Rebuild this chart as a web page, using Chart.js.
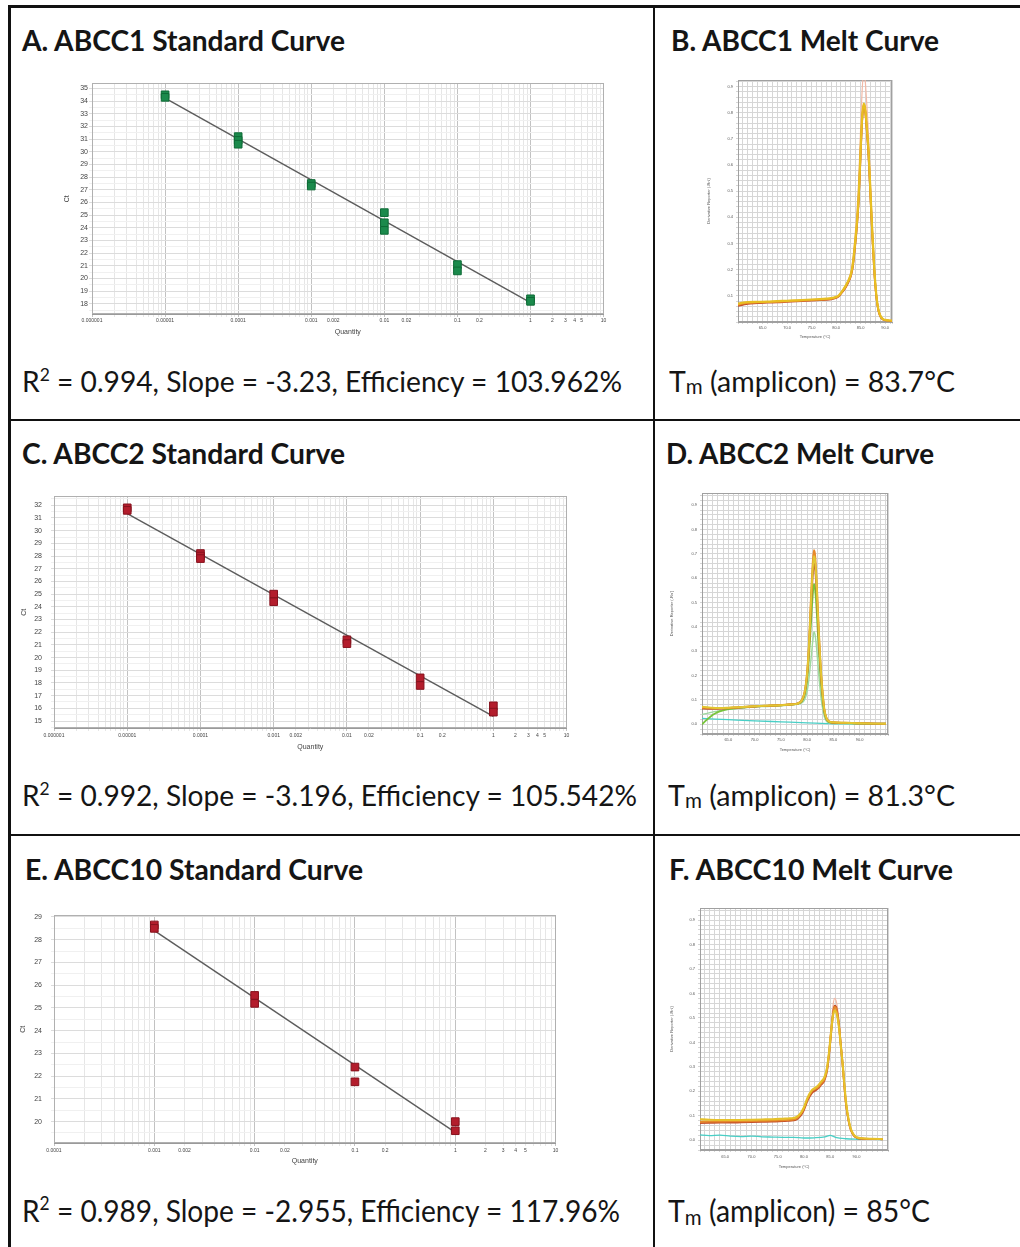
<!DOCTYPE html>
<html><head><meta charset="utf-8">
<script src="https://cdn.jsdelivr.net/npm/chart.js@4.4.1/dist/chart.umd.min.js"></script>
<style>
html,body{margin:0;padding:0;background:#fff;}
body{width:1020px;height:1247px;position:relative;overflow:hidden;}
.ln{position:absolute;background:#111;}
canvas{position:absolute;}
.t{position:absolute;white-space:nowrap;color:#151515;transform-origin:0 0;}
.t sup{font-size:0.62em;line-height:0;vertical-align:0.62em;}
.t sub{font-size:0.72em;line-height:0;vertical-align:-0.12em;}
</style></head><body>
<div class="ln" style="left:8px;top:5px;width:1012px;height:3px"></div>
<div class="ln" style="left:8px;top:5px;width:3px;height:1242px"></div>
<div class="ln" style="left:653px;top:5px;width:2px;height:1242px"></div>
<div class="ln" style="left:8px;top:419px;width:1012px;height:2px"></div>
<div class="ln" style="left:8px;top:834px;width:1012px;height:2px"></div>
<script>
// ---------- DATA ----------
// Standard curves (Quantity vs Ct)
const qtyA = [1e-5,1e-5,1e-4,1e-4,1e-4,1e-3,1e-3,1e-2,1e-2,1e-2,0.1,0.1,1,1];
const ctA  = [34.5,34.3,31.2,30.9,30.6,27.5,27.3,25.2,24.4,23.8,21.1,20.6,18.4,18.2];
const fitQtyA = [1e-5,1];
const fitCtA  = [34.24,18.09];

const qtyC = [1e-5,1e-5,1e-4,1e-4,1e-4,1e-3,1e-3,1e-2,1e-2,0.1,0.1,1,1];
const ctC  = [31.8,31.6,28.2,28.0,27.8,25.0,24.4,21.4,21.1,18.4,17.8,16.2,15.7];
const fitQtyC = [1e-5,1];
const fitCtC  = [31.35,15.37];

const qtyE = [1e-3,1e-3,1e-2,1e-2,0.1,0.1,1,1];
const ctE  = [28.65,28.5,25.55,25.2,22.4,21.75,20.0,19.6];
const fitQtyE = [1e-3,1];
const fitCtE  = [28.4,19.53];

const qtyTickLabelsAC = ['0.000001','0.00001','0.0001','0.001','0.002','0.01','0.02','0.1','0.2','1','2','3','4','5','10'];
const qtyTickLabelsE  = ['0.0001','0.001','0.002','0.01','0.02','0.1','0.2','1','2','3','4','5','10'];
const ctTicksA = [18,19,20,21,22,23,24,25,26,27,28,29,30,31,32,33,34,35];
const ctTicksC = [15,16,17,18,19,20,21,22,23,24,25,26,27,28,29,30,31,32];
const ctTicksE = [20,21,22,23,24,25,26,27,28,29];

// Melt curves (Temperature vs derivative reporter)
const tempB = [60,61,62,64,66,68,70,72,74,76,78,79,80,80.5,81,81.5,82,82.5,83,83.4,83.8,84.2,84.6,85,85.3,85.6,85.9,86.2,86.6,87,87.4,87.8,88.2,88.6,89,89.5,90,91.4];
const bPink   = [0.068,0.072,0.075,0.076,0.077,0.079,0.080,0.082,0.084,0.086,0.088,0.090,0.095,0.100,0.112,0.126,0.142,0.162,0.190,0.235,0.315,0.410,0.540,0.740,0.880,0.950,0.930,0.850,0.720,0.540,0.360,0.210,0.110,0.052,0.026,0.012,0.008,0.005];
const bRed    = [0.062,0.066,0.070,0.072,0.074,0.075,0.077,0.079,0.081,0.083,0.085,0.087,0.092,0.097,0.108,0.120,0.134,0.152,0.175,0.210,0.276,0.355,0.462,0.640,0.765,0.830,0.815,0.748,0.640,0.482,0.325,0.190,0.098,0.046,0.022,0.010,0.006,0.004];
const bOrange = [0.066,0.070,0.073,0.075,0.076,0.077,0.079,0.081,0.083,0.085,0.087,0.089,0.094,0.099,0.110,0.122,0.137,0.155,0.178,0.215,0.282,0.362,0.470,0.650,0.770,0.825,0.812,0.752,0.650,0.490,0.332,0.195,0.100,0.048,0.024,0.011,0.007,0.005];
const bYellow = [0.070,0.074,0.076,0.077,0.078,0.080,0.081,0.083,0.085,0.087,0.089,0.091,0.096,0.101,0.112,0.125,0.140,0.158,0.182,0.220,0.290,0.370,0.480,0.660,0.780,0.835,0.820,0.760,0.660,0.500,0.340,0.200,0.105,0.050,0.025,0.012,0.008,0.005];

const tempD = [60,61,62,63,64,65,67,70,72,75,77,78.2,79.0,79.5,79.9,80.2,80.5,80.8,81.1,81.3,81.5,81.8,82.1,82.4,82.7,83.0,83.3,83.7,84.2,84.7,87,90,95];
const dLight  = [0.040,0.045,0.050,0.054,0.058,0.061,0.066,0.071,0.073,0.076,0.079,0.082,0.088,0.100,0.125,0.160,0.215,0.280,0.345,0.380,0.370,0.315,0.235,0.160,0.100,0.060,0.030,0.012,0.006,0.004,0.003,0.002,0.001];
const dGreen  = [0.000,0.020,0.038,0.050,0.057,0.062,0.068,0.073,0.075,0.078,0.081,0.085,0.095,0.118,0.165,0.230,0.330,0.440,0.540,0.575,0.560,0.480,0.360,0.250,0.160,0.095,0.048,0.020,0.009,0.006,0.005,0.003,0.002];
const dRed    = [0.065,0.064,0.064,0.064,0.065,0.066,0.069,0.073,0.075,0.078,0.081,0.085,0.097,0.125,0.180,0.255,0.375,0.510,0.620,0.660,0.645,0.555,0.415,0.285,0.185,0.110,0.055,0.023,0.011,0.007,0.005,0.004,0.002];
const dYellow = [0.072,0.070,0.068,0.067,0.067,0.068,0.070,0.074,0.076,0.078,0.081,0.085,0.098,0.127,0.185,0.262,0.385,0.530,0.645,0.690,0.675,0.580,0.435,0.300,0.195,0.115,0.058,0.024,0.011,0.008,0.006,0.004,0.002];
const dOrange = [0.068,0.067,0.066,0.066,0.066,0.067,0.070,0.074,0.076,0.079,0.082,0.086,0.100,0.130,0.190,0.270,0.400,0.550,0.670,0.715,0.700,0.600,0.450,0.310,0.200,0.120,0.060,0.025,0.012,0.008,0.006,0.004,0.002];
const tempCyanD = [60,65,70,75,80,84,85,90,95];
const dCyan   = [0.024,0.019,0.014,0.010,0.006,0.003,0.002,0.002,0.001];

const tempF = [60,62,64,66,68,70,72,74,76,77,78,78.5,79,79.5,80,80.7,81.5,82.2,82.6,83.2,83.9,84.4,84.8,85.2,85.5,85.8,86.1,86.4,86.7,87,87.4,87.7,88,88.5,88.9,89.5,90.2,91,93,95];
const fPink   = [0.074,0.075,0.075,0.076,0.076,0.077,0.078,0.079,0.081,0.082,0.084,0.087,0.096,0.109,0.129,0.170,0.202,0.213,0.220,0.236,0.258,0.302,0.378,0.475,0.545,0.580,0.572,0.538,0.480,0.405,0.310,0.225,0.152,0.081,0.045,0.020,0.010,0.007,0.005,0.004];
const fRed    = [0.070,0.071,0.072,0.072,0.073,0.074,0.075,0.076,0.078,0.079,0.081,0.084,0.092,0.104,0.124,0.163,0.193,0.204,0.210,0.225,0.245,0.285,0.355,0.448,0.512,0.550,0.546,0.516,0.465,0.392,0.300,0.218,0.148,0.078,0.043,0.019,0.009,0.006,0.005,0.004];
const fOrange = [0.075,0.076,0.076,0.077,0.077,0.078,0.079,0.080,0.082,0.083,0.085,0.088,0.097,0.110,0.130,0.170,0.200,0.210,0.215,0.230,0.250,0.290,0.360,0.450,0.510,0.545,0.540,0.510,0.460,0.390,0.300,0.220,0.150,0.080,0.045,0.020,0.010,0.007,0.005,0.004];
const fYellow = [0.086,0.084,0.083,0.083,0.083,0.084,0.085,0.086,0.088,0.089,0.091,0.094,0.102,0.115,0.135,0.175,0.205,0.215,0.222,0.238,0.258,0.298,0.365,0.450,0.505,0.530,0.525,0.500,0.455,0.390,0.305,0.228,0.158,0.085,0.048,0.022,0.011,0.008,0.006,0.005];
const tempCyanF = [60,62,64,66,68,70,72,74,76,78,80,82,84,85,86,88,90,95];
const fCyan   = [0.022,0.019,0.021,0.017,0.015,0.017,0.014,0.013,0.012,0.012,0.009,0.010,0.014,0.020,0.012,0.006,0.004,0.003];

const tempTickLabels = [65,70,75,80,85,90];
const derivTickLabelsB = [0.1,0.2,0.3,0.4,0.5,0.6,0.7,0.8,0.9];
const derivTickLabelsDF = [0.0,0.1,0.2,0.3,0.4,0.5,0.6,0.7,0.8,0.9];

// ---------- TEXT ----------
function txt(html, left, base, fs, weight, target){
  const d=document.createElement('div'); d.className='t';
  d.style.font = weight+' '+fs+'px Lato';
  d.style.lineHeight = fs+'px';
  d.style.left=left+'px';
  d.style.top=(base-0.887*fs)+'px';
  d.innerHTML=html;
  document.body.appendChild(d);
  const w=d.getBoundingClientRect().width;
  d.style.transform='scaleX('+(target/w).toFixed(4)+')';
}
txt('A. ABCC1 Standard Curve',22,51,28,'bold',323);
txt('B. ABCC1 Melt Curve',671,51,28,'bold',268);
txt('C. ABCC2 Standard Curve',22,464,28,'bold',323);
txt('D. ABCC2 Melt Curve',666,464,28,'bold',268);
txt('E. ABCC10 Standard Curve',25,880,28,'bold',338);
txt('F. ABCC10 Melt Curve',669,880,28,'bold',284);
txt('R<sup>2</sup> = 0.994, Slope = -3.23, Efficiency = 103.962%',22,392,28,'normal',600);
txt('T<sub>m</sub> (amplicon) = 83.7°C',669,392,28,'normal',286);
txt('R<sup>2</sup> = 0.992, Slope = -3.196, Efficiency = 105.542%',22,806,28,'normal',615);
txt('T<sub>m</sub> (amplicon) = 81.3°C',668,806,28,'normal',287);
txt('R<sup>2</sup> = 0.989, Slope = -2.955, Efficiency = 117.96%',22,1222,30,'normal',598);
txt('T<sub>m</sub> (amplicon) = 85°C',668,1222,30,'normal',262);

// ---------- CHARTS ----------
Chart.register({id:'frame', beforeDatasetsDraw(c,a,o){
  const {left,top,right,bottom}=c.chartArea, ctx=c.ctx;
  ctx.save(); ctx.strokeStyle=o.color||'#999'; ctx.lineWidth=1;
  ctx.strokeRect(Math.round(left)+0.5,Math.round(top)+0.5,Math.round(right-left)-1,Math.round(bottom-top)-1);
  ctx.restore();
}});
const FONT='Liberation Sans';
function mkCanvas(b){
  const c=document.createElement('canvas');
  c.width=b.w; c.height=b.h; c.style.left=b.l+'px'; c.style.top=b.t+'px';
  c.style.width=b.w+'px'; c.style.height=b.h+'px';
  document.body.appendChild(c); return c;
}
function matchLabel(v, labels){
  for(const l of labels){ if(Math.abs(parseFloat(l)/v-1)<1e-6) return l; }
  return '';
}
function fixX(b){return s=>{s.height=b.xh;s.paddingLeft=0;s.paddingRight=0;s.paddingTop=0;s.paddingBottom=0;};}
function fixY(b){return s=>{s.width=b.yw;s.paddingLeft=0;s.paddingRight=0;s.paddingTop=0;s.paddingBottom=0;};}
function stdChart(b, qty, ct, fq, fc, fillC, edgeC, xmin, xmax, ymin, ymax, yTicks, xLabels){
  const cv=mkCanvas(b);
  new Chart(cv,{type:'scatter',
    data:{datasets:[
      {data:qty.map((q,i)=>({x:q,y:ct[i]})), pointStyle:'rect', pointRadius:5.4, backgroundColor:fillC, borderColor:edgeC, borderWidth:1},
      {data:fq.map((q,i)=>({x:q,y:fc[i]})), showLine:true, pointRadius:0, borderColor:'#5c5c5c', borderWidth:1.4}
    ]},
    options:{responsive:false, animation:false, devicePixelRatio:1, events:[],
      layout:{padding:{left:0,top:b.pt,right:b.pr,bottom:0}},
      plugins:{legend:{display:false},tooltip:{enabled:false},frame:{color:'#b0b0b0'}},
      scales:{
        x:{type:'logarithmic', min:xmin, max:xmax,
          afterBuildTicks(s){const t=[];const e0=Math.round(Math.log10(xmin)),e1=Math.round(Math.log10(xmax));
            for(let e=e0;e<e1;e++){for(let k=1;k<10;k++)t.push({value:+(k*Math.pow(10,e)).toPrecision(6)});}
            t.push({value:xmax}); s.ticks=t;},
          afterFit:fixX(b),
          grid:{color:c=>{const v=c.tick?c.tick.value:1;const l=Math.log10(v);return Math.abs(l-Math.round(l))<1e-6?'#c2c2c2':'#e6e6e6';},tickLength:3},
          border:{color:'#9a9a9a'},
          ticks:{autoSkip:false,maxRotation:0,minRotation:0,padding:b.xtp,font:{size:5,family:FONT},color:'#444',callback:v=>matchLabel(v,xLabels)},
          title:{display:true,text:'Quantity',font:{size:7,family:FONT},color:'#444',padding:b.xtt}
        },
        y:{min:ymin,max:ymax,
          afterBuildTicks(s){const t=[];for(let v=Math.ceil(ymin*2)/2;v<=ymax+1e-9;v+=0.5)t.push({value:v});s.ticks=t;},
          afterFit:fixY(b),
          grid:{color:c=>{const v=c.tick?c.tick.value:0;return Number.isInteger(v)?'#dcdcdc':'#f0f0f0';},tickLength:3},
          border:{color:'#9a9a9a'},
          ticks:{autoSkip:false,padding:b.ytp,font:{size:7,family:FONT},color:'#444',callback:v=>yTicks.includes(v)?String(v):''},
          title:{display:true,text:'Ct',font:{size:7,family:FONT},color:'#444',padding:b.ytt}
        }
      }
    }
  });
}
function meltChart(b, traces, xmin, xmax, ymin, ymax, yLabels){
  const cv=mkCanvas(b);
  new Chart(cv,{type:'scatter',
    data:{datasets:traces.map(tr=>({data:tr.t.map((t,i)=>({x:t,y:tr.v[i]})), showLine:true, pointRadius:0,
      borderColor:tr.c, borderWidth:tr.w||1.9, cubicInterpolationMode:'monotone'}))},
    options:{responsive:false, animation:false, devicePixelRatio:1, events:[],
      layout:{padding:{left:0,top:b.pt,right:b.pr,bottom:0}},
      plugins:{legend:{display:false},tooltip:{enabled:false},frame:{color:'#a0a0a0'}},
      scales:{
        x:{type:'linear',min:xmin,max:xmax,
          afterBuildTicks(s){const t=[{value:xmin}];for(let v=Math.ceil(xmin+1e-9);v<xmax;v++)t.push({value:v});t.push({value:xmax});s.ticks=t;},
          afterFit:fixX(b),
          grid:{color:'#d6d6d6',tickLength:2},
          border:{color:'#a0a0a0'},
          ticks:{autoSkip:false,maxRotation:0,minRotation:0,padding:b.xtp,font:{size:4,family:FONT},color:'#555',
            callback:v=>tempTickLabels.includes(v)?v.toFixed(1):''},
          title:{display:true,text:'Temperature (°C)',font:{size:4,family:FONT},color:'#555',padding:b.xtt}
        },
        y:{min:ymin,max:ymax,
          afterBuildTicks(s){const t=[];for(let i=Math.ceil(ymin/0.02-1e-9);i*0.02<=ymax+1e-9;i++)t.push({value:+(i*0.02).toFixed(2)});s.ticks=t;},
          afterFit:fixY(b),
          grid:{color:'#d6d6d6',tickLength:2},
          border:{color:'#a0a0a0'},
          ticks:{autoSkip:false,padding:b.ytp,font:{size:4,family:FONT},color:'#555',
            callback:v=>{const s=+v.toFixed(1);return (Math.abs(v-s)<1e-6&&yLabels.includes(s))?s.toFixed(1):'';}},
          title:{display:true,text:"Derivative Reporter (-Rn')",font:{size:4,family:FONT},color:'#555',padding:b.ytt}
        }
      }
    }
  });
}

stdChart({l:58,t:77,w:552,h:263,pt:4,pr:5,yw:34,xh:26,xtp:1,xtt:3.5,ytp:1,ytt:4.8},
  qtyA, ctA, fitQtyA, fitCtA, '#1b8a4c','#0e6a36', 1e-6, 10, 17.2, 35.4, ctTicksA, qtyTickLabelsAC);
stdChart({l:18,t:490,w:555,h:264,pt:4,pr:5,yw:36,xh:26,xtp:2,xtt:3,ytp:9,ytt:1.4},
  qtyC, ctC, fitQtyC, fitCtC, '#b31d2c','#86121d', 1e-6, 10, 14.45, 32.7, ctTicksC, qtyTickLabelsAC);
stdChart({l:18,t:909,w:544,h:260,pt:4,pr:5,yw:36,xh:26,xtp:2,xtt:4,ytp:9,ytt:0.7},
  qtyE, ctE, fitQtyE, fitCtE, '#b31d2c','#86121d', 1e-4, 10, 19.06, 29.07, ctTicksE, qtyTickLabelsE);

// first dataset is drawn on top
meltChart({l:703,t:76,w:193,h:266,pt:4,pr:4,yw:35,xh:20,xtp:1,xtt:3,ytp:3,ytt:3},
  [{t:tempB,v:bYellow,c:'#e8bf22',w:2.2},{t:tempB,v:bOrange,c:'#e88e2c'},{t:tempB,v:bRed,c:'#c4502a'},{t:tempB,v:bPink,c:'#f2b9a6',w:1.2}],
  60, 91.4, 0, 0.925, derivTickLabelsB);
meltChart({l:667,t:489,w:225,h:266,pt:4,pr:4,yw:35,xh:21,xtp:1,xtt:2.5,ytp:3,ytt:2.3},
  [{t:tempD,v:dYellow,c:'#e2c733'},{t:tempD,v:dOrange,c:'#e8892b'},{t:tempD,v:dRed,c:'#b9552e'},{t:tempD,v:dGreen,c:'#78c43c'},{t:tempD,v:dLight,c:'#9fd9a0',w:1.4},{t:tempCyanD,v:dCyan,c:'#48cfc6',w:1.3}],
  60, 95.4, -0.04, 0.95, derivTickLabelsDF);
meltChart({l:665,t:904,w:227,h:267,pt:4,pr:4,yw:35,xh:21,xtp:2,xtt:2,ytp:3,ytt:4.3},
  [{t:tempF,v:fYellow,c:'#e6c12a',w:2.1},{t:tempF,v:fOrange,c:'#e68a2a'},{t:tempF,v:fRed,c:'#c4502a'},{t:tempF,v:fPink,c:'#f2b9a6',w:1.2},{t:tempCyanF,v:fCyan,c:'#48cfc6',w:1.3}],
  60.2, 96, -0.04, 0.95, derivTickLabelsDF);
</script>
</body></html>
